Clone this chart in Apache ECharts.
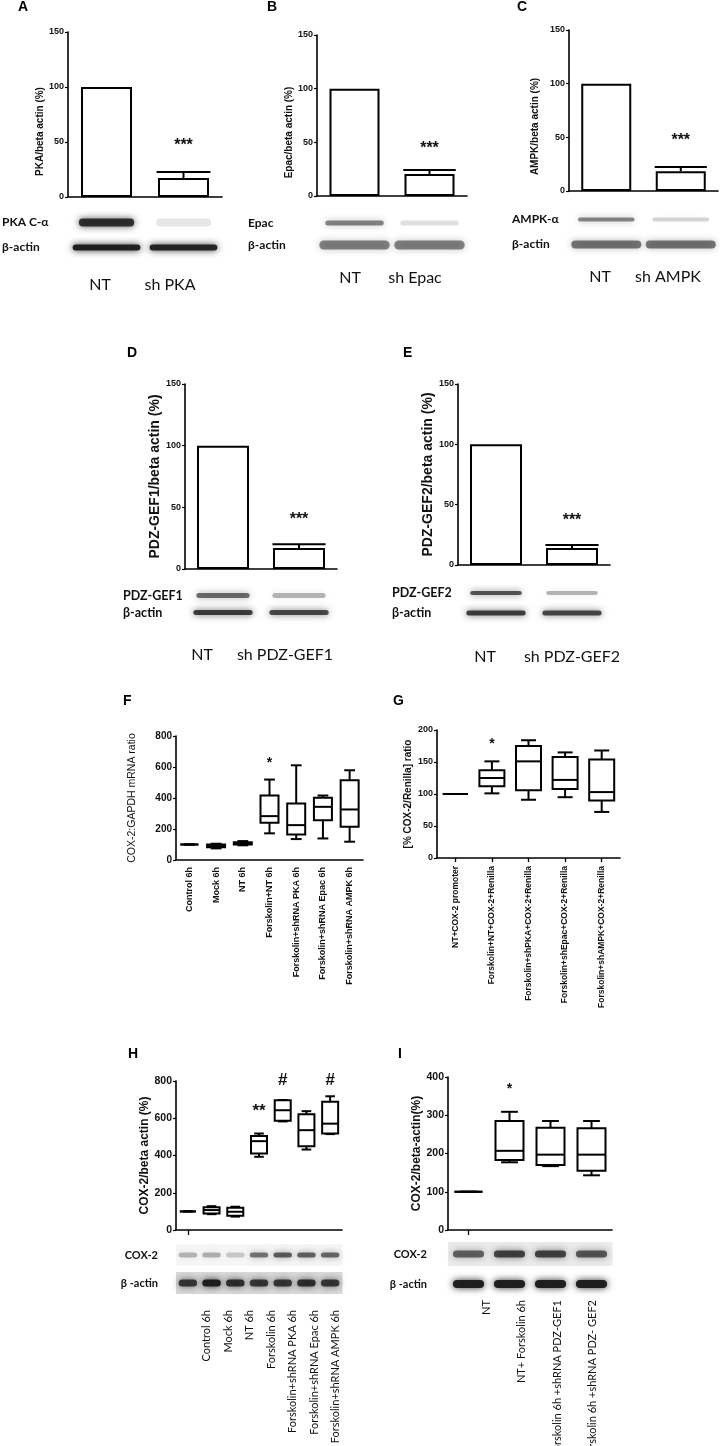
<!DOCTYPE html>
<html>
<head>
<meta charset="utf-8">
<script src="https://cdn.jsdelivr.net/npm/echarts@6/dist/echarts.min.js"></script>
<style>
  html, body { margin: 0; padding: 0; background: #fff; }
  #chart { width: 720px; height: 1446px; }
</style>
</head>
<body>
<div id="chart"></div>
<script>
// ---------- data ----------
// A-E: knockdown efficiency, % of NT (mean, SEM)
const kdCats = ['NT', 'sh'];
const pkaVals = [100, 17.3], pkaErr = [0, 5.4];
const epacVals = [100, 20.5], epacErr = [0, 3.7];
const ampkVals = [100, 18.4], ampkErr = [0, 4];
const gef1Vals = [100, 17], gef1Err = [0, 3];
const gef2Vals = [100, 14], gef2Err = [0, 2.5];
const kdMarkVals = [47, 44, 47, 40, 37];

const labelsA = ['NT', 'sh PKA'];
const labelsB = ['NT', 'sh Epac'];
const labelsC = ['NT', 'sh AMPK'];
const labelsD = ['NT', 'sh PDZ-GEF1'];
const labelsE = ['NT', 'sh PDZ-GEF2'];

// blot band intensities per lane (0..1)
const pkaBand = [0.85, 0.1], pkaActin = [0.95, 0.92];
const epacBand = [0.5, 0.13], epacActin = [0.5, 0.5];
const ampkBand = [0.5, 0.18], ampkActin = [0.55, 0.55];
const gef1Band = [0.6, 0.3], gef1Actin = [0.8, 0.75];
const gef2Band = [0.7, 0.3], gef2Actin = [0.8, 0.75];

// F: COX-2 mRNA, box = [min, q1, median, q3, max]
const fCats = ['Control 6h', 'Mock 6h', 'NT 6h', 'Forskolin+NT 6h', 'Forskolin+shRNA PKA 6h',
  'Forskolin+shRNA Epac 6h', 'Forskolin+shRNA AMPK 6h'];
const fBoxes = [
  [100, 100, 100, 100, 100],
  [75, 82, 90, 100, 105],
  [95, 100, 108, 115, 122],
  [172, 240, 283, 416, 519],
  [135, 165, 225, 365, 611],
  [139, 257, 343, 401, 416],
  [118, 214, 326, 515, 579]
];
const fMarks = [[3, 628, '*']];

// G: promoter activity
const gCats = ['NT+COX-2 promoter', 'Forskolin+NT+COX-2+Renilla', 'Forskolin+shPKA+COX-2+Renilla',
  'Forskolin+shEpac+COX-2+Renilla', 'Forskolin+shAMPK+COX-2+Renilla'];
const gBoxes = [
  [100, 100, 100, 100, 100],
  [101, 112, 125, 137, 151],
  [91, 106, 151, 175, 184],
  [95, 108, 122, 158, 165],
  [72, 90, 103, 154, 168]
];
const gMarks = [[1, 178, '*']];

// H: COX-2 protein
const hCats = ['Control 6h', 'Mock 6h', 'NT 6h', 'Forskolin 6h', 'Forskolin+shRNA PKA 6h',
  'Forskolin+shRNA Epac 6h', 'Forskolin+shRNA AMPK 6h'];
const hBoxes = [
  [100, 100, 100, 100, 100],
  [85, 88, 107, 122, 128],
  [72, 77, 98, 120, 125],
  [393, 411, 477, 505, 518],
  [583, 586, 643, 696, 698],
  [432, 450, 536, 621, 638],
  [515, 518, 571, 688, 718]
];
const hMarks = [[3, 636, '**'], [4, 805, '#'], [6, 805, '#']];
const hCox = [0.28, 0.3, 0.2, 0.55, 0.65, 0.62, 0.6];
const hActin = [0.8, 0.95, 0.85, 0.8, 0.8, 0.85, 0.8];

// I: COX-2 protein, PDZ-GEF knockdown
const iCats = ['NT', 'NT+ Forskolin 6h', 'Forskolin 6h +shRNA PDZ-GEF1', 'Forskolin 6h +shRNA PDZ- GEF2'];
const iBoxes = [
  [100, 100, 100, 100, 100],
  [177, 183, 207, 285, 309],
  [167, 170, 197, 267, 285],
  [143, 155, 197, 266, 285]
];
const iMarks = [[1, 367, '*']];
const iCox = [0.6, 0.75, 0.75, 0.65];
const iActin = [0.95, 0.95, 0.95, 0.95];

// ---------- fonts ----------
const AX = "'Liberation Sans', Arial, sans-serif";
const NARROW = "'Liberation Sans Narrow', 'Liberation Sans', Arial, sans-serif";
const CAL = "Lato, 'Open Sans', sans-serif";

const grids = [], xAxes = [], yAxes = [], series = [], titles = [];

function addGrid(rect) {
  grids.push(Object.assign({ containLabel: false, outerBoundsMode: 'none' }, rect));
  return grids.length - 1;
}

function letter(t, left, top) {
  titles.push({ text: t, left: left, top: top, padding: 0,
    textStyle: { fontFamily: AX, fontWeight: 'bold', fontSize: 14, color: '#000' } });
}

function errRender(capFrac) {
  return function (params, api) {
    const e = api.value(2);
    if (!e) return;
    const p0 = api.coord([api.value(0), api.value(1)]);
    const p1 = api.coord([api.value(0), api.value(1) + e]);
    const w = api.size([1, 0])[0] * capFrac;
    const st = { stroke: '#000', lineWidth: 2 };
    return { type: 'group', children: [
      { type: 'line', shape: { x1: p0[0], y1: p0[1], x2: p1[0], y2: p1[1] }, style: st },
      { type: 'line', shape: { x1: p1[0] - w / 2, y1: p1[1], x2: p1[0] + w / 2, y2: p1[1] }, style: st }
    ] };
  };
}

function markRender(marks, size, weight) {
  return function (params, api) {
    const c = api.coord([api.value(0), api.value(1)]);
    return { type: 'text', x: c[0], y: c[1], style: {
      text: marks[params.dataIndex][2], fill: '#111', fontSize: size, fontWeight: weight,
      fontFamily: AX, align: 'center', verticalAlign: 'middle' } };
  };
}

function boxRender(boxW, capFrac) {
  return function (params, api) {
    const i = api.value(0);
    const pMin = api.coord([i, api.value(1)]), q1 = api.coord([i, api.value(2)]);
    const md = api.coord([i, api.value(3)]), q3 = api.coord([i, api.value(4)]);
    const pMax = api.coord([i, api.value(5)]);
    const x = pMin[0], h = boxW / 2, cw = boxW * capFrac / 2;
    const st = { stroke: '#000', lineWidth: 2 };
    return { type: 'group', children: [
      { type: 'line', shape: { x1: x, y1: pMax[1], x2: x, y2: q3[1] }, style: st },
      { type: 'line', shape: { x1: x, y1: q1[1], x2: x, y2: pMin[1] }, style: st },
      { type: 'line', shape: { x1: x - cw, y1: pMax[1], x2: x + cw, y2: pMax[1] }, style: st },
      { type: 'line', shape: { x1: x - cw, y1: pMin[1], x2: x + cw, y2: pMin[1] }, style: st },
      { type: 'rect', shape: { x: x - h, y: q3[1], width: boxW, height: q1[1] - q3[1] },
        style: { stroke: '#000', lineWidth: 2, fill: '#fff' } },
      { type: 'line', shape: { x1: x - h, y1: md[1], x2: x + h, y2: md[1] }, style: st }
    ] };
  };
}

// soft-edged band: blurred rounded rect
function blotRender(bandH, widthFrac) {
  return function (params, api) {
    const row = api.value(1), a = api.value(2);
    const c = api.coord([api.value(0), row]);
    const w = api.size([1, 1])[0] * widthFrac[row];
    const h = bandH[row];
    const col = 'rgba(25,25,25,' + a + ')';
    return { type: 'rect', shape: { x: c[0] - w / 2, y: c[1] - h / 2, width: w, height: h, r: h / 2 },
      style: { fill: col, shadowBlur: 7, shadowColor: col } };
  };
}

function stripRender(stripH, colors) {
  return function (params, api) {
    const row = api.value(1);
    const c = api.coord([api.value(0), row]);
    const w = api.size([1, 1])[0];
    const h = stripH[row];
    if (!h) return;
    return { type: 'rect', shape: { x: c[0] - w / 2, y: c[1] - h / 2, width: w + 0.5, height: h },
      style: { fill: colors[row] } };
  };
}

function blotData(rows) {
  const out = [];
  rows.forEach((arr, r) => arr.forEach((a, i) => out.push([i, r, a])));
  return out;
}

function blotGrid(b, cats) {
  const g = addGrid(b.rect);
  xAxes.push({ gridIndex: g, type: 'category', data: cats, show: false });
  yAxes.push({ gridIndex: g, type: 'category', inverse: true, data: b.names,
    axisLine: { show: false }, axisTick: { show: false }, splitLine: { show: false },
    axisLabel: { align: b.align, margin: b.margin, fontFamily: CAL, fontWeight: 'bold',
      fontSize: b.fontSize, color: '#111' } });
  if (b.strip) {
    series.push({ type: 'custom', xAxisIndex: g, yAxisIndex: g, silent: true, z: 1,
      data: blotData(b.bands), renderItem: stripRender(b.stripH, b.strip) });
  }
  series.push({ type: 'custom', xAxisIndex: g, yAxisIndex: g, silent: true, z: 2,
    data: blotData(b.bands), renderItem: blotRender(b.bandH, b.widthFrac) });
}

function labelRow(cats, left, width, top, label) {
  const g = addGrid({ left: left, top: top, width: width, height: 1 });
  xAxes.push({ gridIndex: g, type: 'category', data: cats,
    axisLine: { show: false }, axisTick: { show: false },
    axisLabel: Object.assign({ interval: 0, margin: 2, color: '#111', fontFamily: CAL }, label) });
  yAxes.push({ gridIndex: g, type: 'value', show: false });
}

function barPanel(p) {
  const g = addGrid(p.plot);
  xAxes.push({ gridIndex: g, type: 'category', data: kdCats,
    axisLine: { lineStyle: { color: '#000', width: 1.6 } },
    axisTick: { alignWithLabel: true, length: 4, lineStyle: { color: '#000', width: 1.2 } },
    axisLabel: { show: false } });
  yAxes.push({ gridIndex: g, type: 'value', min: 0, max: 150, interval: 50,
    name: p.yName, nameLocation: 'middle', nameGap: p.nameGap, nameRotate: 90,
    nameTextStyle: { fontFamily: AX, fontWeight: 'bold', fontSize: p.nameSize, color: '#111',
      padding: [0, p.nameShift * 2, 0, 0] },
    axisLine: { show: true, lineStyle: { color: '#000', width: 1.6 } },
    axisTick: { show: true, length: 3, lineStyle: { color: '#000', width: 1.2 } },
    axisLabel: { fontFamily: NARROW, fontWeight: 'bold', fontSize: 9, color: '#111', margin: 4 },
    splitLine: { show: false } });
  series.push({ type: 'bar', xAxisIndex: g, yAxisIndex: g, data: p.vals, barWidth: p.barWidth,
    itemStyle: { color: '#fff', borderColor: '#000', borderWidth: 2 } });
  series.push({ type: 'custom', xAxisIndex: g, yAxisIndex: g, z: 3,
    data: p.vals.map((v, i) => [i, v, p.errs[i]]), renderItem: errRender(0.7) });
  const marks = [[1, p.markVal, '***']];
  series.push({ type: 'custom', xAxisIndex: g, yAxisIndex: g, z: 4,
    data: marks.map(m => [m[0], m[1]]), renderItem: markRender(marks, 16, 'bold') });
  blotGrid(p.blot, kdCats);
  const c1 = p.labelX[0], c2 = p.labelX[1];
  labelRow(p.labels, c1 - (c2 - c1) / 2, 2 * (c2 - c1), p.labelY - 11, { fontSize: 16 });
}

function boxPanel(p) {
  const g = addGrid(p.plot);
  xAxes.push({ gridIndex: g, type: 'category', data: p.cats,
    axisLine: { lineStyle: { color: '#000', width: 1.6 } },
    axisTick: { show: p.tickLen > 0, alignWithLabel: true, length: p.tickLen,
      lineStyle: { color: '#000', width: 1.3 } },
    axisLabel: p.xLabel ? Object.assign({ interval: 0, rotate: 90, color: '#111',
      fontFamily: AX, fontWeight: 'bold' }, p.xLabel) : { show: false } });
  yAxes.push({ gridIndex: g, type: 'value', min: 0, max: p.max, interval: p.max / 4,
    name: p.yName, nameLocation: 'middle', nameGap: p.nameGap, nameRotate: 90,
    nameTextStyle: { fontFamily: AX, fontWeight: p.nameWeight, fontSize: p.nameSize, color: '#111' },
    axisLine: { show: true, lineStyle: { color: '#000', width: 1.6 } },
    axisTick: { show: true, length: 3, lineStyle: { color: '#000', width: 1.2 } },
    axisLabel: { fontFamily: NARROW, fontWeight: 'bold', fontSize: p.tickSize, color: '#111', margin: 4 },
    splitLine: { show: false } });
  series.push({ type: 'custom', xAxisIndex: g, yAxisIndex: g, z: 3,
    data: p.boxes.map((b, i) => [i].concat(b)), renderItem: boxRender(p.boxW, 0.6) });
  series.push({ type: 'custom', xAxisIndex: g, yAxisIndex: g, z: 4,
    data: p.marks.map(m => [m[0], m[1]]), renderItem: markRender(p.marks, p.markSize, p.markWeight) });
}

// ---------- panels ----------
letter('A', 18, 0); letter('B', 267, 0); letter('C', 517, 0);
letter('D', 127, 346); letter('E', 403, 346);
letter('F', 123, 694); letter('G', 393, 694);
letter('H', 128, 1047); letter('I', 398, 1047);

barPanel({ plot: { left: 68, top: 32, width: 154, height: 165 }, vals: pkaVals, errs: pkaErr,
  markVal: kdMarkVals[0], yName: 'PKA/beta actin (%)', nameGap: 20, nameSize: 10, nameShift: 17, barWidth: 51,
  blot: { rect: { left: 68, top: 210, width: 154, height: 50 }, names: ['PKA C-α', 'β-actin'],
    bands: [pkaBand, pkaActin], bandH: [8, 6], widthFrac: [0.72, 0.88], align: 'left', margin: 66, fontSize: 12 },
  labels: labelsA, labelX: [100, 170], labelY: 285 });

barPanel({ plot: { left: 317, top: 35, width: 150, height: 161 }, vals: epacVals, errs: epacErr,
  markVal: kdMarkVals[1], yName: 'Epac/beta actin (%)', nameGap: 19, nameSize: 10, nameShift: 17, barWidth: 50,
  blot: { rect: { left: 317, top: 212, width: 150, height: 44 }, names: ['Epac', 'β-actin'],
    bands: [epacBand, epacActin], bandH: [5, 9], widthFrac: [0.78, 0.94], align: 'left', margin: 69, fontSize: 12 },
  labels: labelsB, labelX: [350, 415], labelY: 278 });

barPanel({ plot: { left: 569, top: 30, width: 149, height: 161 }, vals: ampkVals, errs: ampkErr,
  markVal: kdMarkVals[2], yName: 'AMPK/beta actin (%)', nameGap: 29, nameSize: 10, nameShift: 16, barWidth: 50,
  blot: { rect: { left: 569, top: 207, width: 149, height: 50 }, names: ['AMPK-α', 'β-actin'],
    bands: [ampkBand, ampkActin], bandH: [4, 8], widthFrac: [0.76, 0.94], align: 'left', margin: 57, fontSize: 12 },
  labels: labelsC, labelX: [600, 668], labelY: 277 });

barPanel({ plot: { left: 185, top: 384, width: 152, height: 185 }, vals: gef1Vals, errs: gef1Err,
  markVal: kdMarkVals[3], yName: 'PDZ-GEF1/beta actin (%)', nameGap: 16, nameSize: 14, nameShift: 0, barWidth: 52,
  blot: { rect: { left: 185, top: 587, width: 152, height: 34 }, names: ['PDZ-GEF1', 'β-actin'],
    bands: [gef1Band, gef1Actin], bandH: [5, 5], widthFrac: [0.7, 0.78], align: 'left', margin: 62, fontSize: 12.5 },
  labels: labelsD, labelX: [202, 285], labelY: 655 });

barPanel({ plot: { left: 458, top: 384, width: 152, height: 181 }, vals: gef2Vals, errs: gef2Err,
  markVal: kdMarkVals[4], yName: 'PDZ-GEF2/beta actin (%)', nameGap: 14, nameSize: 14, nameShift: 0, barWidth: 52,
  blot: { rect: { left: 458, top: 583, width: 152, height: 40 }, names: ['PDZ-GEF2', 'β-actin'],
    bands: [gef2Band, gef2Actin], bandH: [4, 5], widthFrac: [0.68, 0.78], align: 'left', margin: 66, fontSize: 12.5 },
  labels: labelsE, labelX: [485, 572], labelY: 657 });

boxPanel({ plot: { left: 176, top: 736, width: 187, height: 124 }, cats: fCats, boxes: fBoxes, max: 800,
  boxW: 18, tickLen: 0, xLabel: { fontSize: 9, margin: 7 }, marks: fMarks, markSize: 14, markWeight: 'bold',
  yName: 'COX-2:GAPDH mRNA ratio', nameWeight: 'normal', nameSize: 10.5, nameGap: 38, tickSize: 10 });

boxPanel({ plot: { left: 437, top: 730, width: 183, height: 128 }, cats: gCats, boxes: gBoxes, max: 200,
  boxW: 25, tickLen: 4, xLabel: { fontSize: 8.5, margin: 8 }, marks: gMarks, markSize: 14, markWeight: 'bold',
  yName: '[% COX-2/Renilla] ratio', nameWeight: 'bold', nameSize: 10, nameGap: 24, tickSize: 9 });

boxPanel({ plot: { left: 176, top: 1081, width: 166, height: 149 }, cats: hCats, boxes: hBoxes, max: 800,
  boxW: 16, tickLen: 5, xLabel: null, marks: hMarks, markSize: 17, markWeight: 'bold',
  yName: 'COX-2/beta actin (%)', nameWeight: 'bold', nameSize: 12, nameGap: 20, tickSize: 10.5 });
blotGrid({ rect: { left: 176, top: 1241, width: 166, height: 56 }, names: ['COX-2', 'β -actin'],
  bands: [hCox, hActin], bandH: [5, 7], widthFrac: [0.78, 0.78], align: 'right', margin: 18, fontSize: 11,
  strip: ['#f6f6f6', '#d9d9d9'], stripH: [22, 22] }, hCats);
labelRow(hCats, 196, 150.5, 1307, { rotate: 90, fontSize: 11 });

boxPanel({ plot: { left: 448, top: 1077, width: 164, height: 153 }, cats: iCats, boxes: iBoxes, max: 400,
  boxW: 28, tickLen: 5, xLabel: null, marks: iMarks, markSize: 14, markWeight: 'bold',
  yName: 'COX-2/beta-actin(%)', nameWeight: 'bold', nameSize: 12, nameGap: 19, tickSize: 10.5 });
blotGrid({ rect: { left: 448, top: 1239, width: 164, height: 60 }, names: ['COX-2', 'β -actin'],
  bands: [iCox, iActin], bandH: [7, 8], widthFrac: [0.76, 0.76], align: 'right', margin: 21, fontSize: 11,
  strip: ['#ebebeb', '#ffffff'], stripH: [24, 0] }, iCats);
labelRow(iCats, 469, 141, 1297, { rotate: 90, fontSize: 11 });

const chart = echarts.init(document.getElementById('chart'), null, { renderer: 'canvas' });
chart.setOption({
  animation: false,
  backgroundColor: '#fff',
  title: titles,
  grid: grids,
  xAxis: xAxes,
  yAxis: yAxes,
  series: series
});
</script>
</body>
</html>
